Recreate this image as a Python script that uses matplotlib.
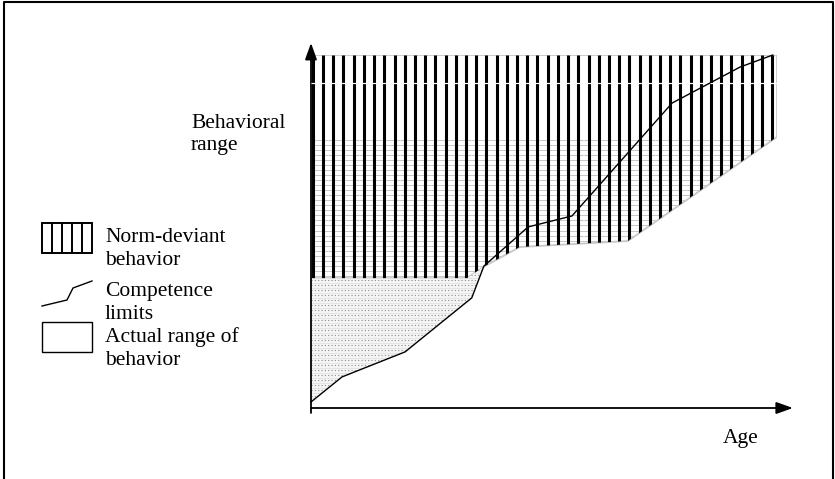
import numpy as np
import matplotlib
matplotlib.use('Agg')
import matplotlib.pyplot as plt
from matplotlib.patches import Polygon, Rectangle
from matplotlib.lines import Line2D

plt.rcParams['font.family'] = ['Liberation Serif', 'DejaVu Serif']

# competence limits (age, behavioral range), both on a 0-100 scale
age_comp = [0, 6.65, 20.2, 34.5, 37.1, 46.6, 56.0, 77.5, 92.1, 99.1]
range_comp = [1.7, 8.8, 15.9, 31.2, 40.2, 51.3, 54.4, 86.4, 96.6, 100]

# lower edge of the norm-deviant zone
age_norm = [0, 33.5, 36.9, 44.8, 68.0, 100]
range_norm = [36.8, 36.8, 39.9, 45.6, 47.3, 76.8]

range_top = 100
band_top = 76.8      # upper edge of the shaded band inside the striped zone

legend_labels = [['Norm-deviant', 'behavior'], ['Competence', 'limits'], ['Actual range of', 'behavior']]
ylabel_lines = ['Behavioral', 'range']

W, H = 835, 479
fig = plt.figure(figsize=(W / 100, H / 100), dpi=100)
ax = fig.add_axes([311 / W, (H - 408) / H, 466 / W, 353 / H])
ax.set_xlim(0, 100)
ax.set_ylim(0, 100)
ax.axis('off')

def px(x, y):
    return x / W, 1 - y / H

FS = 15.5

# striped (norm-deviant) region
norm_poly = [(0, range_top), (age_norm[-1], range_top)] + list(zip(age_norm[::-1], range_norm[::-1]))
clip_norm = Polygon(norm_poly, closed=True, facecolor='white', edgecolor='#c8c8c8', lw=1.3, zorder=1)
ax.add_patch(clip_norm)

band_y = np.arange(min(range_norm) + 0.7, band_top, 1.42)
hl = ax.hlines(band_y, 0, 100, color='#c8c8c8', lw=0.7, zorder=2)
hl.set_clip_path(clip_norm)

stripe_x = np.linspace(0.4, 99.0, 46)
vl = ax.vlines(stripe_x, 0, range_top, color='black', lw=2.2, zorder=3)
vl.set_clip_path(clip_norm)

gap = ax.hlines([92.1], 0, 100, color='white', lw=0.9, zorder=4)
gap.set_clip_path(clip_norm)

# actual range region (below norm edge, above competence line)
xs = np.linspace(0, 50, 800)
ci = np.interp(xs, age_comp, range_comp)
ni = np.interp(xs, age_norm, range_norm)
m = ci <= ni
xa, ca, na = xs[m], ci[m], ni[m]
act_poly = list(zip(xa, ca)) + list(zip(xa[::-1], na[::-1]))
clip_act = Polygon(act_poly, closed=True, facecolor='#f5f5f5', edgecolor='none', zorder=1)
ax.add_patch(clip_act)
dot_y = np.arange(0.7, max(na), 1.42)
dl = ax.hlines(dot_y, 0, 50, color='#8c8c8c', lw=0.8, linestyles=[(0, (1, 2))], zorder=2)
dl.set_clip_path(clip_act)
fl = ax.hlines(dot_y + 0.71, 0, 50, color='#dddddd', lw=0.5, zorder=2)
fl.set_clip_path(clip_act)

# competence line
ax.plot(age_comp, range_comp, color='black', lw=1.0, zorder=5, clip_on=False)

# axes with arrows
arrow = dict(arrowstyle='-|>,head_length=0.5,head_width=0.18', color='black', lw=1.3,
             mutation_scale=20, shrinkA=0, shrinkB=0)
ax.annotate('', xy=(103.4, 0), xytext=(0, 0), arrowprops=arrow, annotation_clip=False)
ax.annotate('', xy=(0, 103.4), xytext=(0, -1.4), arrowprops=arrow, annotation_clip=False)

for line, yb in zip(ylabel_lines, [128, 150]):
    fig.text(*px(191, yb), line, fontsize=FS, ha='left', va='baseline')
fig.text(*px(723, 443), 'Age', fontsize=FS, ha='left', va='baseline')

# legend
x0, x1 = 42, 92
r1 = Rectangle(px(x0, 253), (x1 - x0) / W, 30 / H, transform=fig.transFigure,
               facecolor='white', edgecolor='black', lw=1.4)
fig.patches.append(r1)
for sx in range(x0 + 10, x1, 10):
    fig.lines.append(Line2D([sx / W] * 2, [1 - 223 / H, 1 - 253 / H], transform=fig.transFigure,
                            color='black', lw=1.4))
sym_x = [42, 67, 73, 92]
sym_y = [306, 300, 288, 281]
fig.lines.append(Line2D([v / W for v in sym_x], [1 - v / H for v in sym_y], transform=fig.transFigure,
                        color='black', lw=1.0))
r3 = Rectangle(px(x0, 352), (x1 - x0) / W, 30 / H, transform=fig.transFigure,
               facecolor='white', edgecolor='black', lw=1.0)
fig.patches.append(r3)
for lab, yb in zip(legend_labels, [242, 296, 342]):
    fig.text(*px(105, yb), lab[0], fontsize=FS, ha='left', va='baseline')
    fig.text(*px(105, yb + 23), lab[1], fontsize=FS, ha='left', va='baseline')

# frame around the picture
fig.lines.append(Line2D([4 / W, 4 / W, 833 / W, 833 / W], [0, 1 - 2 / H, 1 - 2 / H, 0],
                        transform=fig.transFigure, color='black', lw=1.5))

fig.savefig('out.png', dpi=100)
